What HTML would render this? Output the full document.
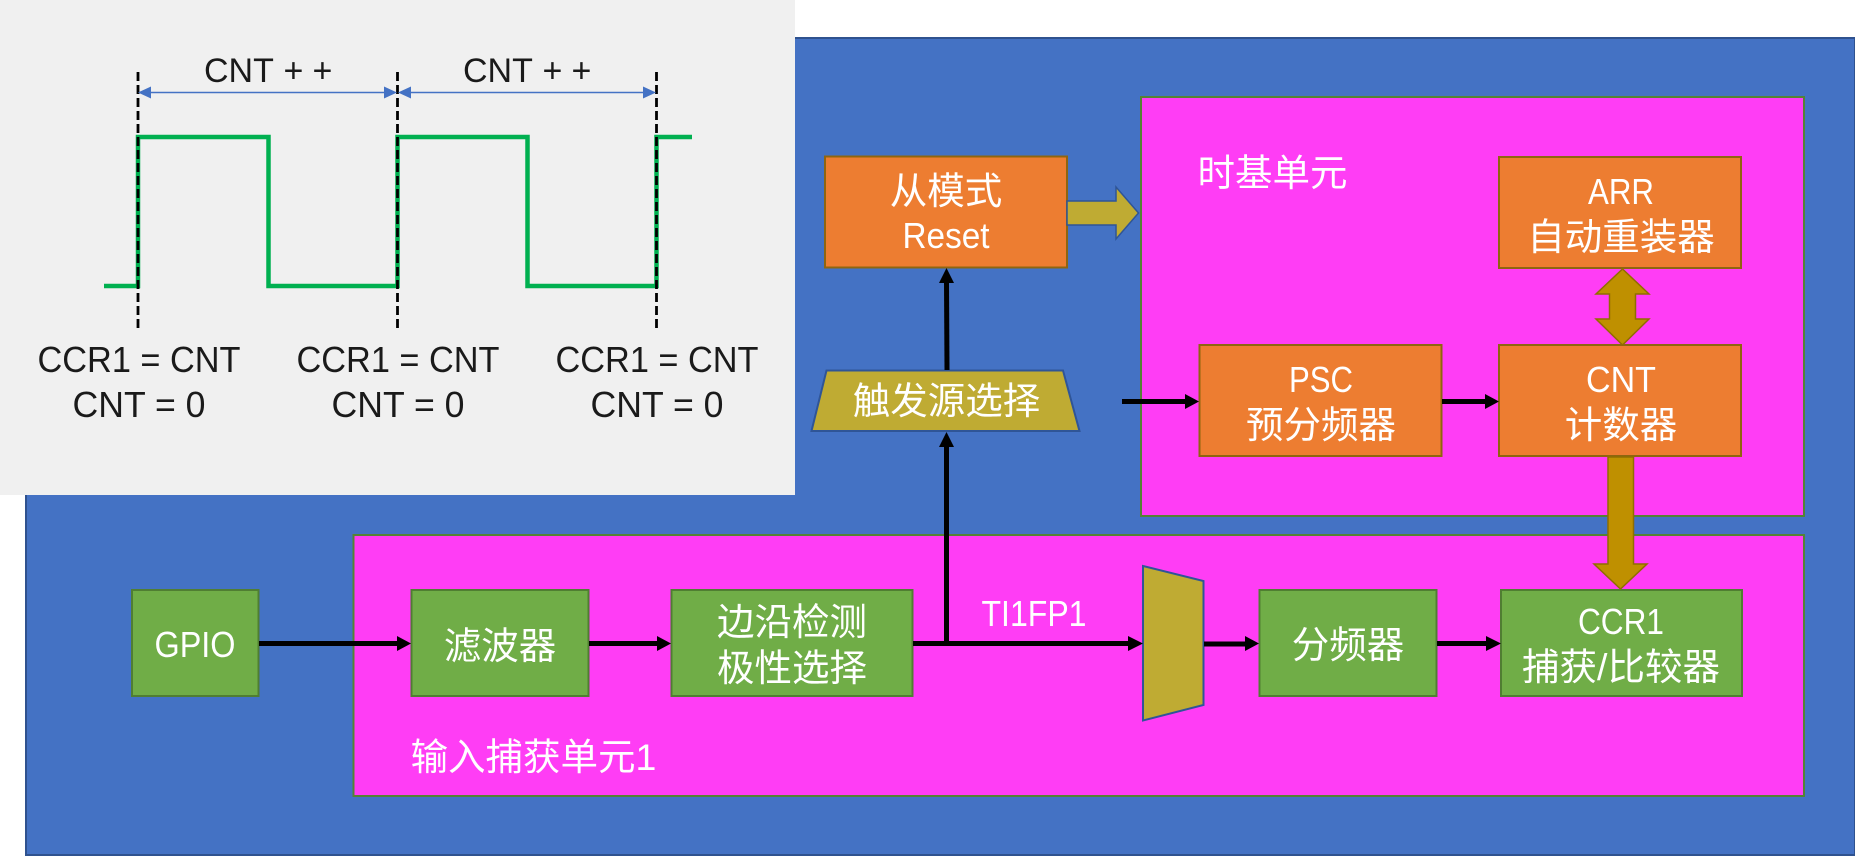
<!DOCTYPE html>
<html><head><meta charset="utf-8"><style>
html,body{margin:0;padding:0;background:#fff}
svg{display:block}
text{font-family:"Liberation Sans","Noto Sans CJK SC",sans-serif;text-anchor:middle}
.w{fill:#fff}.k{fill:#1a1a1a}
.lat{font-size:36px}.cjk{font-size:37.5px}
.o{fill:#ED7D31;stroke:#8F6510;stroke-width:2}
.g{fill:#70AD47;stroke:#507E32;stroke-width:2}
.m{fill:#FF3DF5;stroke:#548235;stroke-width:2}
.b{stroke:#000;stroke-width:5;fill:none}
.h{fill:#000}
</style></head><body>
<svg width="1855" height="856" viewBox="0 0 1855 856" xmlns="http://www.w3.org/2000/svg">
<rect x="26" y="38" width="1829" height="817" fill="#4472C4" stroke="#2F528F" stroke-width="2"/>
<rect x="0" y="0" width="795" height="495" fill="#F0F0F0"/>

<rect class="m" x="1141" y="97" width="663" height="419"/>
<rect class="m" x="353.500" y="535" width="1450.500" height="261"/>

<!-- waveform -->
<polyline points="104,286 138,286 138,137 268.500,137 268.500,286 397.500,286 397.500,137 527.500,137 527.500,286 656.500,286 656.500,137 692,137" fill="none" stroke="#00B050" stroke-width="4.500"/>
<g stroke="#000" stroke-width="2.800" stroke-dasharray="9 4">
<line x1="138" y1="72" x2="138" y2="329"/><line x1="397.500" y1="72" x2="397.500" y2="329"/><line x1="656.500" y1="72" x2="656.500" y2="329"/>
</g>
<g stroke="#4472C4" stroke-width="1.500"><line x1="150" y1="92.500" x2="386" y2="92.500"/><line x1="409" y1="92.500" x2="645" y2="92.500"/></g>
<g fill="#4472C4">
<polygon points="138,92.500 151,86.500 151,98.500"/><polygon points="397,92.500 384,86.500 384,98.500"/>
<polygon points="398,92.500 411,86.500 411,98.500"/><polygon points="656,92.500 643,86.500 643,98.500"/>
</g>
<text class="k" style="font-size:34px;text-anchor:start" x="204" y="82">CNT <tspan x="283.500">+</tspan><tspan x="312.500">+</tspan></text>
<text class="k" style="font-size:34px;text-anchor:start" x="463" y="82">CNT <tspan x="542.500">+</tspan><tspan x="571.500">+</tspan></text>
<text class="lat k" x="139" y="372" textLength="203" lengthAdjust="spacingAndGlyphs">CCR1 = CNT</text>
<text class="lat k" x="398" y="372" textLength="203" lengthAdjust="spacingAndGlyphs">CCR1 = CNT</text>
<text class="lat k" x="657" y="372" textLength="203" lengthAdjust="spacingAndGlyphs">CCR1 = CNT</text>
<text class="lat k" x="139" y="417" textLength="133" lengthAdjust="spacingAndGlyphs">CNT = 0</text>
<text class="lat k" x="398" y="417" textLength="133" lengthAdjust="spacingAndGlyphs">CNT = 0</text>
<text class="lat k" x="657" y="417" textLength="133" lengthAdjust="spacingAndGlyphs">CNT = 0</text>

<!-- orange boxes -->
<rect class="o" x="825" y="156.500" width="242" height="111"/>
<rect class="o" x="1499" y="157" width="242" height="111"/>
<rect class="o" x="1199.500" y="345" width="242" height="111"/>
<rect class="o" x="1499" y="345" width="242" height="111"/>

<!-- green boxes -->
<rect class="g" x="132" y="590" width="126.500" height="106"/>
<rect class="g" x="411.500" y="590" width="177" height="106"/>
<rect class="g" x="671.500" y="590" width="241" height="106"/>
<rect class="g" x="1259.500" y="590" width="177" height="106"/>
<rect class="g" x="1501" y="590" width="241" height="106"/>

<!-- trapezoids -->
<polygon points="826.500,370.500 1063,370.500 1079.500,431 811.500,431" fill="#BFAB33" stroke="#2F5597" stroke-width="2"/>
<polygon points="1143,566 1203.500,581 1203.500,705 1143,720.500" fill="#BFAB33" stroke="#2F5597" stroke-width="2"/>

<!-- block arrows -->
<polygon points="1067,201 1116,201 1116,187 1138.500,213 1116,239 1116,225 1067,225" fill="#BFAB33" stroke="#2F5597" stroke-width="1.500"/>
<polygon points="1622.500,269 1649,294 1635.500,294 1635.500,319 1649,319 1622.500,345 1596,319 1609.500,319 1609.500,294 1596,294" fill="#BF9000" stroke="#8F6D00" stroke-width="1.500"/>
<polygon points="1608,457 1633.500,457 1633.500,564 1647,564 1620.500,589 1594,564 1608,564" fill="#BF9000" stroke="#8F6D00" stroke-width="1.500"/>

<!-- black connectors -->
<line class="b" x1="259" y1="643.500" x2="398" y2="643.500"/><polygon class="h" points="411,643.500 397,636 397,651"/>
<line class="b" x1="589" y1="643.500" x2="658" y2="643.500"/><polygon class="h" points="671,643.500 657,636 657,651"/>
<line class="b" x1="913" y1="643.500" x2="1129" y2="643.500"/><polygon class="h" points="1143,643.500 1128,636 1128,651"/>
<line class="b" x1="1204" y1="644" x2="1246" y2="644"/><polygon class="h" points="1259,643.500 1245,636 1245,651"/>
<line class="b" x1="1437" y1="643.500" x2="1487" y2="643.500"/><polygon class="h" points="1501,643.500 1486,636 1486,651"/>
<line class="b" x1="1122" y1="401.500" x2="1186" y2="401.500"/><polygon class="h" points="1199,401.500 1185,394 1185,409"/>
<line class="b" x1="1442" y1="401.500" x2="1486" y2="401.500"/><polygon class="h" points="1499,401.500 1485,394 1485,409"/>
<line class="b" x1="946.500" y1="645" x2="946.500" y2="446"/><polygon class="h" points="946.500,432 939,447 954,447"/>
<line class="b" x1="947" y1="370" x2="946.500" y2="282"/><polygon class="h" points="946.500,268 939,283 954,283"/>

<!-- labels -->
<text class="cjk w" x="946" y="204">从模式</text>
<text class="lat w" x="946" y="248" textLength="87" lengthAdjust="spacingAndGlyphs">Reset</text>
<text class="cjk w" x="1272.500" y="186">时基单元</text>
<text class="lat w" x="1621" y="204" textLength="66" lengthAdjust="spacingAndGlyphs">ARR</text>
<text class="cjk w" x="1621" y="250">自动重装器</text>
<text class="lat w" x="1321" y="392" textLength="64" lengthAdjust="spacingAndGlyphs">PSC</text>
<text class="cjk w" x="1321" y="438">预分频器</text>
<text class="lat w" x="1621" y="392" textLength="70" lengthAdjust="spacingAndGlyphs">CNT</text>
<text class="cjk w" x="1621" y="438">计数器</text>
<text class="cjk w" x="946.500" y="414">触发源选择</text>
<text class="lat w" x="195" y="657" textLength="81" lengthAdjust="spacingAndGlyphs">GPIO</text>
<text class="cjk w" x="500" y="659">滤波器</text>
<text class="cjk w" x="792" y="635">边沿检测</text>
<text class="cjk w" x="792" y="681">极性选择</text>
<text class="lat w" x="1034" y="626" textLength="105" lengthAdjust="spacingAndGlyphs">TI1FP1</text>
<text class="cjk w" x="1348" y="658">分频器</text>
<text class="lat w" x="1621" y="634" textLength="86" lengthAdjust="spacingAndGlyphs">CCR1</text>
<text class="cjk w" x="1621" y="680">捕获/比较器</text>
<text class="cjk w" x="533.500" y="770">输入捕获单元1</text>
</svg>
</body></html>
